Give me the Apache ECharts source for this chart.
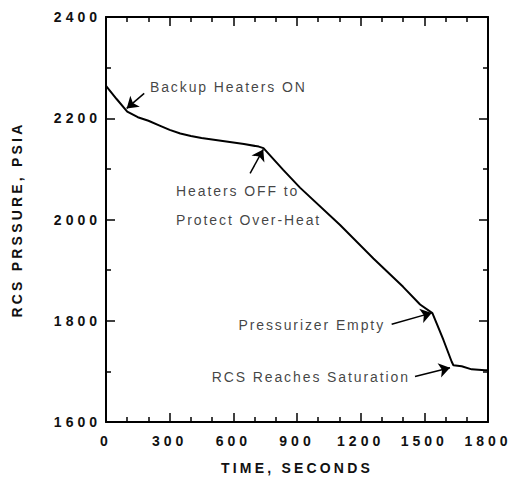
<!DOCTYPE html>
<html>
<head>
<meta charset="utf-8">
<script src="https://cdn.jsdelivr.net/npm/echarts@6/dist/echarts.min.js"></script>
<style>
  html, body { margin: 0; padding: 0; background: #fff; }
  #chart { width: 513px; height: 488px; }
</style>
</head>
<body>
<div id="chart"></div>
<script>
// RCS pressure transient (seconds, psia)
const timeSec = [0, 50, 100, 150, 200, 250, 300, 350, 400, 450, 550, 650, 720, 742,
  835, 914, 1103, 1260, 1400, 1480, 1538, 1558, 1590, 1629, 1637, 1676, 1723, 1786, 1800];
const rcsPressure = [2264, 2238, 2213, 2202, 2195, 2186, 2177, 2170, 2165, 2161, 2155, 2149, 2144, 2141,
  2098, 2063, 1989, 1923, 1867, 1832, 1815, 1795, 1762, 1719, 1712, 1710, 1704, 1702, 1702];

// Axis tick labels
const xTickValues = [0, 300, 600, 900, 1200, 1500, 1800];
const yTickValues = [1600, 1800, 2000, 2200, 2400];

// Event notes: text, anchor point (data units), alignment
const noteText = ['Backup Heaters ON', 'Heaters OFF to', 'Protect Over-Heat', 'Pressurizer Empty', 'RCS Reaches Saturation'];
const noteAnchor = [[207, 2262], [330, 2056], [330, 1999], [1315, 1791], [1432, 1688]];
const noteAlign = ['left', 'left', 'left', 'right', 'right'];

// Arrows from the notes to the curve (data units)
const arrowFrom = [[180, 2249], [679, 2091], [1346, 1793], [1456, 1690]];
const arrowTo = [[97.5, 2219.5], [741, 2138.5], [1535, 1815.5], [1621, 1707]];

const FONT = '"Liberation Sans", Arial, Helvetica, sans-serif';
const BLACK = '#000';
const TEXT = '#111';

const xMin = xTickValues[0], xMax = xTickValues[xTickValues.length - 1];
const yMin = yTickValues[0], yMax = yTickValues[yTickValues.length - 1];
const xStep = xTickValues[1] - xTickValues[0];
const yStep = yTickValues[1] - yTickValues[0];

const tickStyle = { color: BLACK, width: 1.5 };
const plainNumber = v => String(v);

function xAxisDef(pos, withLabels) {
  return {
    type: 'value', position: pos, min: xMin, max: xMax, interval: xStep,
    axisLine: { show: true, onZero: false, lineStyle: { color: BLACK, width: 2 } },
    axisTick: { show: true, inside: true, length: 9, lineStyle: tickStyle },
    minorTick: { show: true, splitNumber: 3, length: 5, lineStyle: tickStyle },
    splitLine: { show: false },
    minorSplitLine: { show: false },
    axisLabel: withLabels ? {
      show: true, margin: 12, color: TEXT, fontFamily: FONT, fontWeight: 'bold', fontSize: 14,
      formatter: plainNumber
    } : { show: false },
    name: withLabels ? 'TIME, SECONDS' : '',
    nameLocation: 'middle', nameGap: 39,
    nameTextStyle: { color: TEXT, fontFamily: FONT, fontWeight: 'bold', fontSize: 14 }
  };
}

function yAxisDef(pos, withLabels) {
  return {
    type: 'value', position: pos, min: yMin, max: yMax, interval: yStep,
    axisLine: { show: true, onZero: false, lineStyle: { color: BLACK, width: 2 } },
    axisTick: { show: true, inside: true, length: 9, lineStyle: tickStyle },
    minorTick: { show: true, splitNumber: 2, length: 5, lineStyle: tickStyle },
    splitLine: { show: false },
    minorSplitLine: { show: false },
    axisLabel: withLabels ? {
      show: true, margin: 5, color: TEXT, fontFamily: FONT, fontWeight: 'bold', fontSize: 14,
      formatter: plainNumber
    } : { show: false },
    name: withLabels ? 'RCS PRSSURE, PSIA' : '',
    nameLocation: 'middle', nameGap: 82,
    nameTextStyle: { color: TEXT, fontFamily: FONT, fontWeight: 'bold', fontSize: 14 }
  };
}

const curve = timeSec.map((t, i) => [t, rcsPressure[i]]);
const notes = noteText.map((s, i) => ({
  name: s,
  value: noteAnchor[i],
  label: { align: noteAlign[i] }
}));
const arrows = arrowFrom.map((p, i) => [{ coord: p }, { coord: arrowTo[i] }]);

const chart = echarts.init(document.getElementById('chart'), null, { renderer: 'svg' });
chart.setOption({
  animation: false,
  backgroundColor: '#fff',
  grid: { left: 106, right: 25, top: 17, bottom: 66, containLabel: false, outerBoundsMode: 'none' },
  xAxis: [xAxisDef('bottom', true), xAxisDef('top', false)],
  yAxis: [yAxisDef('left', true), yAxisDef('right', false)],
  series: [
    {
      type: 'line',
      data: curve,
      symbol: 'none',
      lineStyle: { color: BLACK, width: 2 },
      silent: true,
      markLine: {
        silent: true,
        symbol: ['none', 'arrow'],
        symbolSize: 11,
        label: { show: false },
        lineStyle: { color: BLACK, width: 1.5, type: 'solid' },
        emphasis: { disabled: true },
        data: arrows
      }
    },
    {
      type: 'scatter',
      data: notes,
      symbolSize: 1,
      itemStyle: { color: 'rgba(0,0,0,0)' },
      silent: true,
      label: {
        show: true,
        position: 'inside',
        verticalAlign: 'middle',
        formatter: p => p.name,
        color: TEXT,
        fontFamily: FONT,
        fontSize: 14
      }
    }
  ]
});

// Wider tracking for the text, as in the printed figure
function trackText() {
  document.querySelectorAll('#chart text').forEach(t => {
    const s = t.textContent || '';
    let ls = '1.9px';
    if (/^\d+$/.test(s)) ls = '4px';
    else if (s === s.toUpperCase() && s.indexOf(',') >= 0) ls = '3.2px';
    t.style.letterSpacing = ls;
  });
}
trackText();
chart.on('finished', trackText);
</script>
</body>
</html>
